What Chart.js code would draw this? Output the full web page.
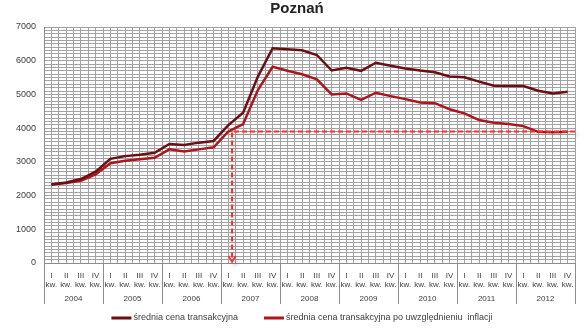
<!DOCTYPE html>
<html>
<head>
<meta charset="utf-8">
<script src="https://cdn.jsdelivr.net/npm/chart.js@4/dist/chart.umd.min.js"></script>
<style>
  html, body { margin: 0; padding: 0; background: #fff; }
  #wrap { width: 585px; height: 335px; }
</style>
</head>
<body>
<div id="wrap"><canvas id="myChart"></canvas></div>
<script>
// dane kwartalne 2004-2012 (zł/m2)
var lata = ['2004', '2005', '2006', '2007', '2008', '2009', '2010', '2011', '2012'];
var kwartaly = ['I', 'II', 'III', 'IV'];

var cenaSrednia = [
    2330, 2390, 2490, 2710,
    3090, 3170, 3210, 3270,
    3530, 3500, 3570, 3620,
    4090, 4460, 5530, 6370,
    6340, 6310, 6170, 5710,
    5790, 5700, 5940, 5850,
    5770, 5710, 5660, 5530,
    5510, 5380, 5260, 5250,
    5250, 5110, 5030, 5080
];
var cenaPoInflacji = [
    2330, 2370, 2440, 2630,
    2960, 3030, 3080, 3120,
    3370, 3310, 3370, 3430,
    3900, 4120, 5130, 5820,
    5700, 5600, 5450, 5000,
    5030, 4840, 5050, 4950,
    4860, 4760, 4740, 4560,
    4440, 4240, 4160, 4120,
    4060, 3890, 3880, 3890
];

// linia odniesienia: poziom z I kw. 2007
var poziomOdniesienia = cenaPoInflacji[12];
var startOdniesienia = 12.25;

var kolory = ['#6b0f14', '#ad161c'];
var etykiety = ['średnia cena transakcyjna', 'średnia cena transakcyjna po uwzględnieniu  inflacji'];

function punkty(arr) {
    return arr.map(function (v, i) { return { x: i, y: v }; });
}

// przerywane linie z cieniem + strzalka w dol
var liniaOdniesienia = {
    id: 'liniaOdniesienia',
    afterDatasetsDraw: function (chart) {
        var ctx = chart.ctx;
        var xs = chart.scales.x, ys = chart.scales.y;
        var x0 = xs.getPixelForValue(startOdniesienia);
        var x1 = xs.getPixelForValue(35.5);
        var y0 = ys.getPixelForValue(poziomOdniesienia);
        var yb = ys.getPixelForValue(0);
        ctx.save();
        ctx.strokeStyle = '#ff2a2a';
        ctx.lineWidth = 2;
        ctx.setLineDash([5, 3]);
        ctx.shadowColor = 'rgba(0,0,0,0.22)';
        ctx.shadowBlur = 4;
        ctx.shadowOffsetX = 3;
        ctx.shadowOffsetY = 3;
        ctx.beginPath();
        ctx.moveTo(x1, y0);
        ctx.lineTo(x0, y0);
        ctx.lineTo(x0, yb - 1);
        ctx.stroke();
        ctx.setLineDash([]);
        ctx.lineWidth = 1.5;
        ctx.beginPath();
        ctx.moveTo(x0 - 3.5, yb - 7);
        ctx.lineTo(x0, yb - 1);
        ctx.lineTo(x0 + 3.5, yb - 7);
        ctx.stroke();
        ctx.restore();
    }
};

// drugi wiersz osi X (lata), tytul i legenda
var opisy = {
    id: 'opisy',
    afterDraw: function (chart) {
        var ctx = chart.ctx;
        var xs = chart.scales.x;
        var top = chart.chartArea.bottom;
        ctx.save();
        ctx.strokeStyle = '#8c8c8c';
        ctx.lineWidth = 1;
        for (var k = 0; k <= lata.length; k++) {
            var px = Math.round(xs.getPixelForValue(k * 4 - 0.5)) + 0.5;
            ctx.beginPath();
            ctx.moveTo(px, top);
            ctx.lineTo(px, top + 41);
            ctx.stroke();
        }
        ctx.fillStyle = '#404040';
        ctx.font = '8px "Liberation Sans"';
        ctx.textAlign = 'center';
        ctx.textBaseline = 'middle';
        lata.forEach(function (rok, k) {
            ctx.fillText(rok, xs.getPixelForValue(k * 4 + 1.5), top + 36);
        });

        // tytul
        ctx.fillStyle = '#222';
        ctx.font = 'bold 15px "Liberation Sans"';
        ctx.textBaseline = 'alphabetic';
        ctx.fillText('Poznań', 297, 12.5);

        // legenda
        ctx.font = '9px "Liberation Sans"';
        ctx.textAlign = 'left';
        ctx.textBaseline = 'middle';
        var szer = 20, odstep = 2, przerwa = 26;
        var w0 = ctx.measureText(etykiety[0]).width;
        var w1 = ctx.measureText(etykiety[1]).width;
        var calosc = 2 * (szer + odstep) + w0 + w1 + przerwa;
        var x = 302 - calosc / 2;
        var y = 318;
        [w0, w1].forEach(function (w, i) {
            ctx.fillStyle = kolory[i];
            ctx.fillRect(x, y - 1.5, szer, 3);
            ctx.fillStyle = '#404040';
            ctx.fillText(etykiety[i], x + szer + odstep, y);
            x += szer + odstep + w + przerwa;
        });
        ctx.restore();
    }
};

document.addEventListener('DOMContentLoaded', function () {
    var ctx = document.getElementById('myChart').getContext('2d');
    var myChart = new Chart(ctx, {
        type: 'line',
        data: {
            datasets: [{
                label: etykiety[0],
                data: punkty(cenaSrednia),
                borderColor: kolory[0],
                borderWidth: 2.5,
                pointRadius: 0,
                tension: 0
            }, {
                label: etykiety[1],
                data: punkty(cenaPoInflacji),
                borderColor: kolory[1],
                borderWidth: 2.5,
                pointRadius: 0,
                tension: 0
            }]
        },
        options: {
            responsive: true,
            maintainAspectRatio: false,
            animation: false,
            layout: { padding: { left: 0, right: 10, top: 27, bottom: 30 } },
            plugins: {
                legend: { display: false },
                title: { display: false },
                tooltip: { enabled: false }
            },
            scales: {
                x: {
                    type: 'linear',
                    min: -0.5,
                    max: 35.5,
                    afterFit: function (scale) { scale.height = 42; },
                    grid: { color: '#a2a2a2', drawTicks: false },
                    border: { color: '#8c8c8c' },
                    ticks: {
                        stepSize: 0.5,
                        autoSkip: false,
                        maxRotation: 0,
                        minRotation: 0,
                        padding: 8,
                        color: '#404040',
                        font: { family: 'Liberation Sans', size: 8, lineHeight: 1.15 },
                        callback: function (value) {
                            if (Number.isInteger(value)) {
                                return [kwartaly[value % 4], 'kw.'];
                            }
                            return '';
                        }
                    }
                },
                y: {
                    min: 0,
                    max: 7000,
                    afterFit: function (scale) { scale.width = 44; },
                    grid: { color: '#a2a2a2', drawTicks: false },
                    border: { color: '#8c8c8c' },
                    ticks: {
                        stepSize: 100,
                        autoSkip: false,
                        padding: 8,
                        color: '#404040',
                        font: { family: 'Liberation Sans', size: 9 },
                        callback: function (value) {
                            return value % 1000 === 0 ? value : '';
                        }
                    }
                }
            }
        },
        plugins: [liniaOdniesienia, opisy]
    });
});
</script>
</body>
</html>
